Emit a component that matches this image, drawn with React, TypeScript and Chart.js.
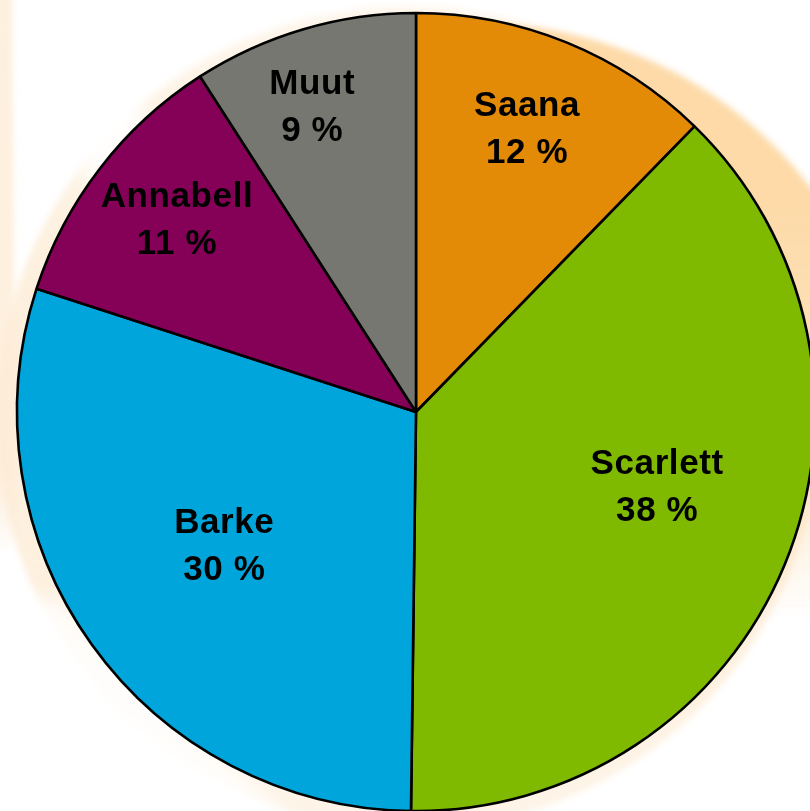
import React, { useEffect, useRef } from "react";
import { Chart, registerables } from "chart.js";

Chart.register(...registerables);

const categories = ["Saana", "Scarlett", "Barke", "Annabell", "Muut"];
const shares = [12.3, 37.9, 29.8, 10.9, 9.1];
const sliceColors = ["#E38B07", "#7FBA00", "#00A6DB", "#850057", "#777772"];

// label placement: fraction of radius, angular offset (degrees) from slice middle
const labelPlacement = [
  { r: 0.765, a: -0.8 },
  { r: 0.632, a: -5.5 },
  { r: 0.584, a: 1.0 },
  { r: 0.771, a: 1.4 },
  { r: 0.812, a: -2.3 },
];

const W = 832;
const H = 824;

const backgroundPlugin = {
  id: "swirlBackground",
  beforeDraw(chart: any) {
    const ctx = chart.ctx as CanvasRenderingContext2D;
    ctx.save();
    ctx.fillStyle = "#ffffff";
    ctx.fillRect(0, 0, W, H);

    // soft light band on the left / lower-left
    ctx.filter = "blur(3px)";
    const g1 = ctx.createLinearGradient(0, 0, 0, H);
    g1.addColorStop(0, "rgba(253,238,218,0.5)");
    g1.addColorStop(0.35, "rgba(253,238,218,0.9)");
    g1.addColorStop(0.8, "rgba(253,238,218,0.85)");
    g1.addColorStop(1, "rgba(253,238,218,0.6)");
    ctx.fillStyle = g1;
    ctx.beginPath();
    ctx.arc(408, 418, 412, 0, Math.PI * 2);
    ctx.fill();

    // white glossy streaks
    ctx.filter = "blur(10px)";
    ctx.fillStyle = "rgba(255,255,255,0.85)";
    ctx.beginPath();
    ctx.moveTo(20, -20);
    ctx.lineTo(90, -20);
    ctx.lineTo(200, 260);
    ctx.lineTo(120, 280);
    ctx.closePath();
    ctx.fill();
    ctx.beginPath();
    ctx.moveTo(-20, 600);
    ctx.lineTo(60, 600);
    ctx.lineTo(300, 830);
    ctx.lineTo(160, 830);
    ctx.closePath();
    ctx.fill();

    // left strip
    ctx.filter = "blur(3px)";
    const g3 = ctx.createLinearGradient(0, 0, 0, 560);
    g3.addColorStop(0, "rgba(253,236,214,0.8)");
    g3.addColorStop(0.85, "rgba(253,236,214,0.8)");
    g3.addColorStop(1, "rgba(253,236,214,0)");
    ctx.fillStyle = g3;
    ctx.beginPath();
    ctx.moveTo(-10, -10);
    ctx.lineTo(12, -10);
    ctx.lineTo(16, 540);
    ctx.lineTo(-10, 560);
    ctx.closePath();
    ctx.fill();

    // peach crescent at top-right
    ctx.filter = "blur(3px)";
    const g2 = ctx.createLinearGradient(0, 200, 0, 620);
    g2.addColorStop(0, "rgba(253,218,168,1)");
    g2.addColorStop(0.55, "rgba(253,222,176,0.8)");
    g2.addColorStop(1, "rgba(253,222,176,0)");
    ctx.fillStyle = g2;
    ctx.beginPath();
    ctx.arc(480, 440, 416, 0, Math.PI * 2);
    ctx.fill();

    ctx.restore();
  },
};

const labelPlugin = {
  id: "sliceLabels",
  afterDatasetsDraw(chart: any) {
    const ctx = chart.ctx as CanvasRenderingContext2D;
    const meta = chart.getDatasetMeta(0);
    const values = chart.data.datasets[0].data as number[];
    const total = values.reduce((s, v) => s + v, 0);
    ctx.save();
    ctx.fillStyle = "#000000";
    ctx.font = "bold 35px 'Liberation Sans', Arial, sans-serif";
    (ctx as any).letterSpacing = "0.6px";
    ctx.textAlign = "center";
    ctx.textBaseline = "alphabetic";
    meta.data.forEach((arc: any, i: number) => {
      const p = arc.getProps(["x", "y", "startAngle", "endAngle", "outerRadius"], true);
      const place = labelPlacement[i];
      const mid = (p.startAngle + p.endAngle) / 2 + (place.a * Math.PI) / 180;
      const rr = p.outerRadius * place.r;
      const cx = p.x + Math.cos(mid) * rr;
      const cy = p.y + Math.sin(mid) * rr;
      const pct = Math.round((values[i] / total) * 100) + " %";
      ctx.fillText(String(chart.data.labels[i]), cx, cy - 11.5);
      ctx.fillText(pct, cx, cy + 35.5);
    });
    ctx.restore();
  },
};

export default function App() {
  const ref = useRef<HTMLCanvasElement | null>(null);

  useEffect(() => {
    if (!ref.current) return;
    const chart = new Chart(ref.current, {
      type: "pie",
      data: {
        labels: categories,
        datasets: [
          {
            data: shares,
            backgroundColor: sliceColors,
            borderColor: "#000000",
            borderWidth: 2.6,
          },
        ],
      },
      options: {
        responsive: false,
        animation: false,
        devicePixelRatio: 1,
        radius: 399,
        layout: { padding: { left: 16, right: 16, top: 12, bottom: 12 } },
        plugins: {
          legend: { display: false },
          tooltip: { enabled: false },
        },
      } as any,
      plugins: [backgroundPlugin, labelPlugin],
    });
    return () => chart.destroy();
  }, []);

  return (
    <div
      style={{
        position: "fixed",
        left: 0,
        top: 0,
        width: 810,
        height: 811,
        overflow: "hidden",
        background: "#ffffff",
      }}
    >
      <canvas
        ref={ref}
        width={W}
        height={H}
        style={{ display: "block", width: W, height: H }}
      />
    </div>
  );
}
